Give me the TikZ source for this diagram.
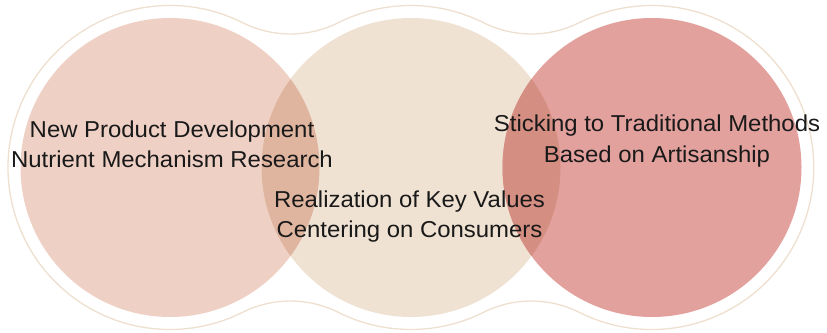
\documentclass[tikz,border=0pt]{standalone}
\usepackage{fontspec}
\usepackage{tikz}
\usepackage{xcolor}
\usetikzlibrary{positioning, calc}
\newfontfamily\labelfont{Liberation Sans}[FakeStretch=1.04]

\definecolor{leftpink}{HTML}{EFD0C5}
\definecolor{midbeige}{HTML}{F0E2D3}
\definecolor{rightrose}{HTML}{E3A19E}
\definecolor{lmover}{HTML}{E0B5A0}
\definecolor{mrover}{HTML}{D48E82}
\definecolor{rimline}{HTML}{EEDFCE}

\begin{document}
\begin{tikzpicture}[x=1pt, y=1pt,
  ring/.style={draw=rimline, line width=1.3pt},
  label/.style={align=center, inner sep=0pt, text=black!90,
    font=\labelfont\fontsize{23}{30.5}\selectfont}]
\useasboundingbox (0,0) rectangle (827,332);

\coordinate (cl) at (170,164.5);
\coordinate (cm) at (411,164.5);
\coordinate (cr) at (652,164.5);

% Three circles
\fill[leftpink] (cl) circle (149.5);
\fill[midbeige] (cm) circle (149.5);
\fill[rightrose] (cr) circle (149.5);

% Overlaps
\begin{scope}
  \clip (cl) circle (149.5);
  \fill[lmover] (cm) circle (149.5);
\end{scope}
\begin{scope}
  \clip (cr) circle (149.5);
  \fill[mrover] (cm) circle (149.5);
\end{scope}

% Outer rim round all three
\draw[ring] ($(cl)+(63.4:162)$)
  arc[start angle=63.4, end angle=296.6, radius=162]
  arc[start angle=116.6, end angle=63.4, radius=107]
  arc[start angle=243.4, end angle=296.6, radius=162]
  arc[start angle=116.6, end angle=63.4, radius=107]
  arc[start angle=243.4, end angle=476.6, radius=162]
  arc[start angle=-63.4, end angle=-116.6, radius=107]
  arc[start angle=63.4, end angle=116.6, radius=162]
  arc[start angle=-63.4, end angle=-116.6, radius=107] -- cycle;

% Labels
\node[label] (newprod) at (172,187.5) {New Product Development\\Nutrient Mechanism Research};
\node[label] (keyval) at (409.5,115.2) {Realization of Key Values\\Centering on Consumers};
\node[label] (tradit) at (657,190.7) {Sticking to Traditional Methods\\Based on Artisanship};
\end{tikzpicture}
\end{document}
